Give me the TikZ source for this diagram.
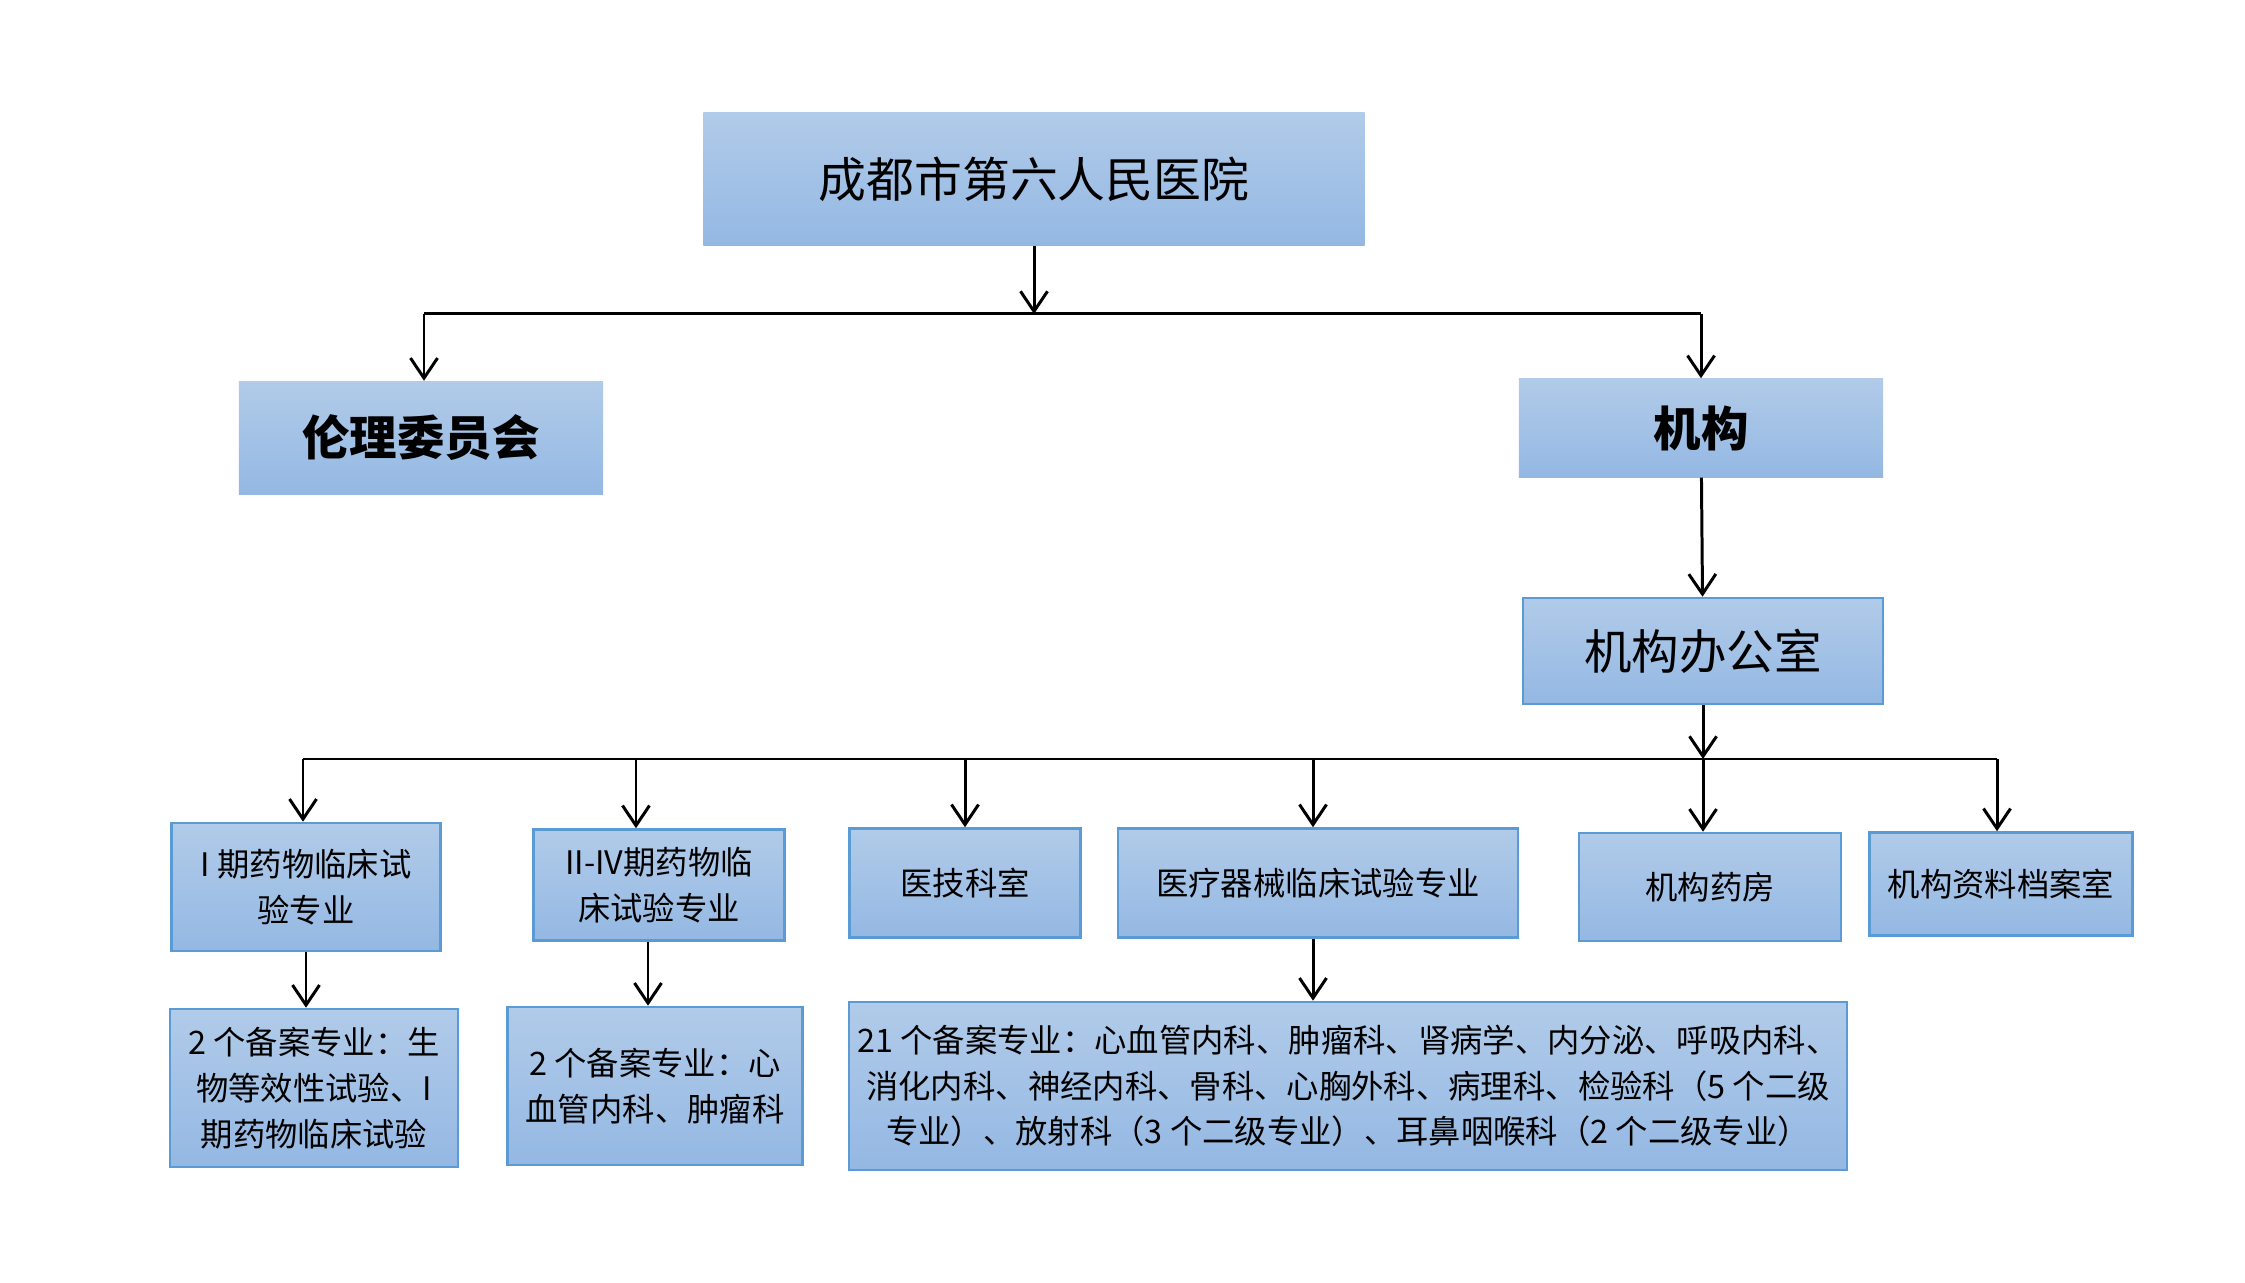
\documentclass[tikz,border=0pt]{standalone}
\usepackage{fontspec}
\setmainfont{Noto Sans CJK SC}
\usetikzlibrary{arrows.meta,positioning}
\definecolor{boxtop}{HTML}{B1CBE9}
\definecolor{boxbot}{HTML}{94B8E3}
\definecolor{boxline}{HTML}{5B9BD5}

\begin{document}
\begin{tikzpicture}[
  x=0.01cm, y=-0.01cm,
  every node/.style={inner sep=0pt, align=center},
  headbox/.style={top color=boxtop, bottom color=boxbot},
  orgbox/.style={headbox, draw=boxline, line width=0.7pt},
  bigtext/.style={font=\fontsize{13.5}{16}\selectfont},
  smalltext/.style={font=\fontsize{9.2}{13}\selectfont},
  arr/.style={-{Straight Barb[length=2mm,width=2.7mm]}, line width=0.85pt}
]
  \useasboundingbox (0,0) rectangle (2245,1283);

  % top level
  \node[headbox, minimum width=6.61cm, minimum height=1.32cm,
        font=\fontsize{13.6}{16}\selectfont] (hosp) at (1034,179) {成都市第六人民医院};
  \node[headbox, bigtext, minimum width=3.64cm, minimum height=1.13cm] (ethics) at (421,438) {\bfseries 伦理委员会};
  \node[headbox, bigtext, minimum width=3.64cm, minimum height=0.98cm] (inst) at (1701,428) {\bfseries 机构};
  \node[orgbox, bigtext, minimum width=3.60cm, minimum height=1.06cm] (office) at (1703,651) {机构办公室};

  % second row
  \node[orgbox, smalltext, minimum width=2.69cm, minimum height=1.28cm] (phaseone) at (306,887) {I 期药物临床试\\验专业};
  \node[orgbox, smalltext, minimum width=2.51cm, minimum height=1.11cm] (phasetwo) at (659,885) {II-IV期药物临\\床试验专业};
  \node[orgbox, smalltext, minimum width=2.31cm, minimum height=1.09cm] (medtech) at (965,883) {医技科室};
  \node[orgbox, smalltext, minimum width=4.00cm, minimum height=1.09cm] (device) at (1318,883) {医疗器械临床试验专业};
  \node[orgbox, smalltext, minimum width=2.62cm, minimum height=1.08cm] (pharm) at (1710,887) {机构药房};
  \node[orgbox, smalltext, minimum width=2.63cm, minimum height=1.03cm] (archive) at (2001,884) {机构资料档案室};

  % third row
  \node[orgbox, smalltext, minimum width=2.88cm, minimum height=1.58cm] (phaseonelist) at (314,1088)
    {2 个备案专业：生\\物等效性试验、I\\期药物临床试验};
  \node[orgbox, smalltext, minimum width=2.95cm, minimum height=1.58cm] (phasetwolist) at (655,1086)
    {2 个备案专业：心\\血管内科、肿瘤科};
  \node[orgbox, smalltext, minimum width=9.97cm, minimum height=1.68cm] (devicelist) at (1348,1086)
    {21 个备案专业：心血管内科、肿瘤科、肾病学、内分泌、呼吸内科、\\
     消化内科、神经内科、骨科、心胸外科、病理科、检验科（5 个二级\\
     专业）、放射科（3 个二级专业）、耳鼻咽喉科（2 个二级专业）};

  % bus lines
  \coordinate (topjoin) at (1034,314);
  \coordinate (topleft) at (424,314);
  \coordinate (topright) at (1701,314);
  \coordinate (midjoin) at (1703,759);
  \coordinate (midleft) at (303,759);
  \coordinate (midright) at (1997,759);

  \draw[arr] (hosp) -- (topjoin);
  \draw[line width=0.85pt] (topleft) -- (topright);
  \draw[arr] (topleft) -- (topleft |- ethics.north);
  \draw[arr] (topright) -- (inst);
  \draw[arr] (inst) -- (office);

  \draw[arr] (office) -- (midjoin);
  \draw[line width=0.85pt] (midleft) -- (midright);
  \draw[arr] (midleft) -- (midleft |- phaseone.north);
  \draw[arr] ([xshift=-0.23cm]phasetwo.north |- midleft) -- ([xshift=-0.23cm]phasetwo.north);
  \draw[arr] (medtech.north |- midleft) -- (medtech);
  \draw[arr] ([xshift=-0.05cm]device.north |- midleft) -- ([xshift=-0.05cm]device.north);
  \draw[arr] (midjoin) -- (midjoin |- pharm.north);
  \draw[arr] (midright) -- (midright |- archive.north);

  \draw[arr] (phaseone) -- (phaseone.south |- phaseonelist.north);
  \draw[arr] ([xshift=-0.11cm]phasetwo.south) -- ([xshift=-0.11cm]phasetwo.south |- phasetwolist.north);
  \draw[arr] ([xshift=-0.05cm]device.south) -- ([xshift=-0.05cm]device.south |- devicelist.north);
\end{tikzpicture}
\end{document}
